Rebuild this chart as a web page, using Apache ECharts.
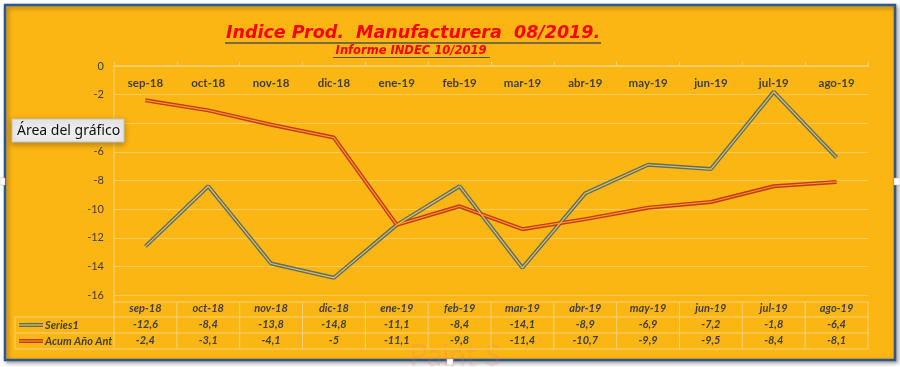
<!DOCTYPE html>
<html>
<head>
<meta charset="utf-8">
<script src="https://cdn.jsdelivr.net/npm/echarts@6/dist/echarts.min.js"></script>
<style>html,body{margin:0;padding:0;background:#fff}#c{width:900px;height:367px}</style>
</head>
<body>
<div id="c"></div>
<script>
const categories = ['sep-18','oct-18','nov-18','dic-18','ene-19','feb-19','mar-19','abr-19','may-19','jun-19','jul-19','ago-19'];
const series1 = [-12.6, -8.4, -13.8, -14.8, -11.1, -8.4, -14.1, -8.9, -6.9, -7.2, -1.8, -6.4];
const acumAnoAnt = [-2.4, -3.1, -4.1, -5, -11.1, -9.8, -11.4, -10.7, -9.9, -9.5, -8.4, -8.1];
const seriesNames = ['Series1', 'Acum Año Ant'];
const yTicks = {min: -16, max: 0, interval: 2};
const titleText = 'Indice Prod.  Manufacturera  08/2019.';
const subtitleText = 'Informe INDEC 10/2019';

const BG = '#FCB614';
const GRIDC = {left: 114, right: 32, top: 66, bottom: 72};
const W = 900, H = 367;
const plotW = W - GRIDC.left - GRIDC.right;
const cellW = plotW / categories.length;
const LINE = '#F5D27A';
const TXT = '#404040';
const FONT = 'Lato';

function fmt(v){ return String(v).replace('.', ','); }

const chart = echarts.init(document.getElementById('c'), null, {renderer: 'canvas'});

const graphics = [];
// frame
graphics.push({type:'rect', z:-20, shape:{x:5, y:5, width:890, height:355},
  style:{fill:BG, stroke:'#2B5797', lineWidth:2.5, shadowBlur:4, shadowColor:'rgba(0,0,0,0.35)', shadowOffsetX:2, shadowOffsetY:2}});
// title & subtitle
graphics.push({type:'text', z:5, x:413, y:33, style:{text:titleText, fill:'#FF0000', font:'italic bold 17.5px "DejaVu Sans"', align:'center', verticalAlign:'middle'}});
graphics.push({type:'line', z:5, shape:{x1:225, y1:43, x2:601, y2:43}, style:{stroke:'#505050', lineWidth:1.5}});
graphics.push({type:'text', z:5, x:411, y:51, style:{text:subtitleText, fill:'#FF0000', font:'italic bold 11.5px "DejaVu Sans"', align:'center', verticalAlign:'middle'}});
graphics.push({type:'line', z:5, shape:{x1:333, y1:57.5, x2:490, y2:57.5}, style:{stroke:'#505050', lineWidth:1.2}});
// table grid lines
const rowY = [302, 317, 333, 349];
const x0 = GRIDC.left, x1 = W - GRIDC.right, legX = 15;
graphics.push({type:'line', z:1, shape:{x1:x0, y1:rowY[0], x2:x1, y2:rowY[0]}, style:{stroke:LINE, lineWidth:1}});
for (let r = 1; r < rowY.length; r++) {
  graphics.push({type:'line', z:1, shape:{x1:legX, y1:rowY[r], x2:x1, y2:rowY[r]}, style:{stroke:LINE, lineWidth:1}});
}
for (let k = 0; k <= categories.length; k++) {
  const x = x0 + k * cellW;
  graphics.push({type:'line', z:1, shape:{x1:x, y1:(k===0?GRIDC.top:rowY[0]), x2:x, y2:rowY[3]}, style:{stroke:LINE, lineWidth:1}});
}
graphics.push({type:'line', z:1, shape:{x1:legX, y1:rowY[1], x2:legX, y2:rowY[3]}, style:{stroke:LINE, lineWidth:1}});
// legend keys in table
const keyCols = [['#5A6E70', '#E8C04A'], ['#C4391B', '#F59A22']];
for (let r = 0; r < 2; r++) {
  const yy = (rowY[r+1] + rowY[r+2]) / 2;
  graphics.push({type:'line', z:3, shape:{x1:19, y1:yy, x2:43, y2:yy}, style:{stroke:keyCols[r][0], lineWidth:4}});
  graphics.push({type:'line', z:4, shape:{x1:19, y1:yy, x2:43, y2:yy}, style:{stroke:keyCols[r][1], lineWidth:1.2}});
  graphics.push({type:'text', z:4, x:45, y:yy, style:{text:seriesNames[r], fill:TXT, font:'italic bold 11px ' + FONT, align:'left', verticalAlign:'middle'}});
}
// watermark text
graphics.push({type:'text', z:-5, x:455, y:356, style:{text:'Paint S', fill:'rgba(240,110,130,0.18)', font:'30px ' + FONT, align:'center', verticalAlign:'middle'}});
// tooltip-like box
graphics.push({type:'rect', z:30, shape:{x:12, y:119, width:112, height:23},
  style:{fill:'#EDEDED', stroke:'#C4C4C4', lineWidth:1, shadowBlur:6, shadowColor:'rgba(0,0,0,0.3)', shadowOffsetY:2}});
graphics.push({type:'text', z:31, x:17, y:131, style:{text:'Área del gráfico', fill:'#111', font:'14px "Noto Sans"', align:'left', verticalAlign:'middle'}});
// resize handles
graphics.push({type:'rect', z:40, shape:{x:0, y:178, width:5, height:7}, style:{fill:'#fff', stroke:'#bbb', lineWidth:0.5}});
graphics.push({type:'rect', z:40, shape:{x:894, y:178, width:6, height:7}, style:{fill:'#fff', stroke:'#bbb', lineWidth:0.5}});
graphics.push({type:'rect', z:40, shape:{x:447, y:359, width:6, height:6}, style:{fill:'#fff', stroke:'#bbb', lineWidth:0.5}});

function tableAxis(margin, formatter){
  return {type:'category', gridIndex:0, position:'bottom', data:categories, boundaryGap:true,
    axisLine:{show:false}, axisTick:{show:false}, splitLine:{show:false},
    axisLabel:{margin:margin, interval:0, color:TXT, fontFamily:FONT, fontSize:11, fontWeight:'bold', fontStyle:'italic', formatter:formatter}};
}

function lineSeries(data, name, outer, inner){
  return [
    {type:'line', name:name, data:data, xAxisIndex:0, yAxisIndex:0, symbol:'none', silent:true, z:3,
      lineStyle:{color:outer, width:4}},
    {type:'line', name:name + ' ', data:data, xAxisIndex:0, yAxisIndex:0, symbol:'none', silent:true, z:4,
      lineStyle:{color:inner, width:1.2}}
  ];
}

chart.setOption({
  animation:false,
  backgroundColor:'#fff',
  grid:{left:GRIDC.left, right:GRIDC.right, top:GRIDC.top, bottom:GRIDC.bottom, containLabel:false},
  xAxis:[
    {type:'category', position:'top', data:categories, boundaryGap:true,
      axisLine:{show:true, lineStyle:{color:LINE, width:1.5}},
      axisTick:{show:true, inside:false, length:4, lineStyle:{color:LINE}},
      axisLabel:{inside:true, margin:11, interval:0, color:TXT, fontFamily:FONT, fontSize:11.5, fontWeight:'bold'},
      splitLine:{show:false}},
    tableAxis(8, v => v),
    tableAxis(24, (v, i) => fmt(series1[i])),
    tableAxis(40, (v, i) => fmt(acumAnoAnt[i]))
  ],
  yAxis:{type:'value', min:yTicks.min, max:yTicks.max, interval:yTicks.interval,
    axisLine:{show:false}, axisTick:{show:false},
    axisLabel:{color:TXT, fontFamily:FONT, fontSize:11, margin:10},
    splitLine:{show:true, lineStyle:{color:'#F8CC5E', width:1}}},
  series: lineSeries(series1, seriesNames[0], '#5A6E70', '#E8C04A')
    .concat(lineSeries(acumAnoAnt, seriesNames[1], '#C4391B', '#F59A22')),
  graphic: graphics
});
</script>
</body>
</html>
